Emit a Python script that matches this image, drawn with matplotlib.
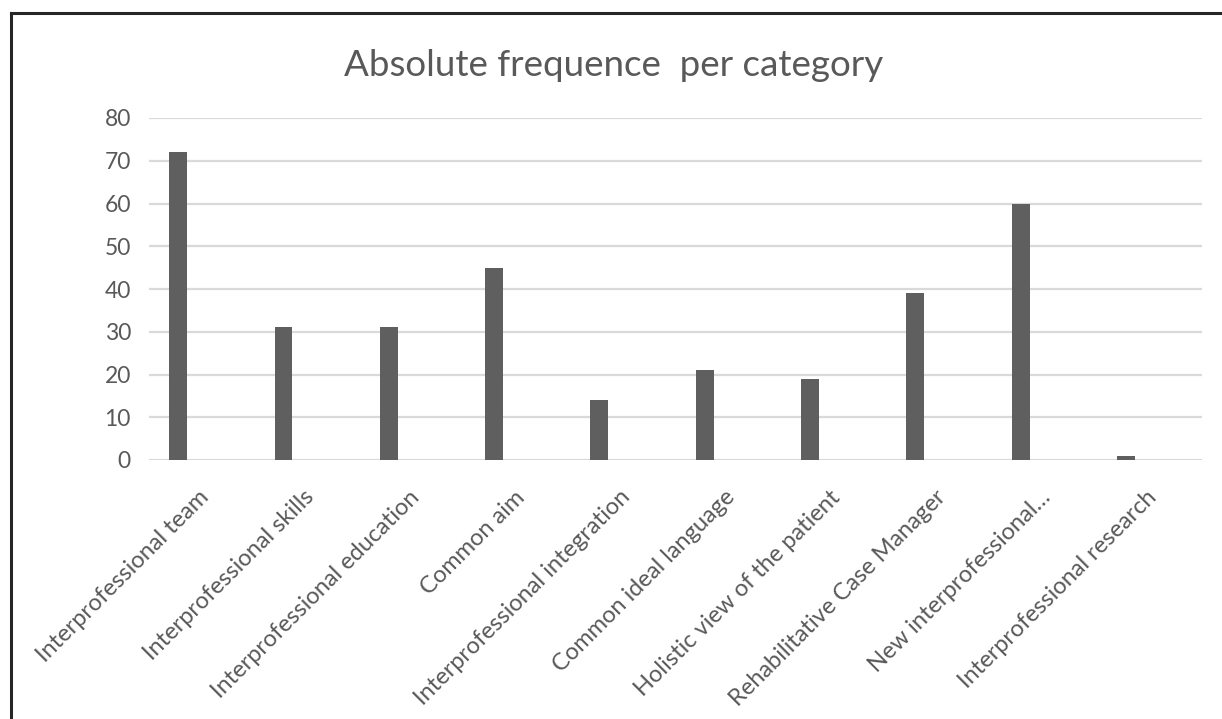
import numpy as np
import matplotlib.pyplot as plt
import matplotlib.transforms as mtransforms
from matplotlib.lines import Line2D

categories = ["Interprofessional team", "Interprofessional skills",
              "Interprofessional education", "Common aim",
              "Interprofessional integration", "Common ideal language",
              "Holistic view of the patient", "Rehabilitative Case Manager",
              "New interprofessional\u2026", "Interprofessional research"]
counts = [72, 31, 31, 45, 14, 21, 19, 39, 60, 1]
yticks = [0, 10, 20, 30, 40, 50, 60, 70, 80]

plt.rcParams['font.family'] = ['Lato', 'DejaVu Sans']
grey = "#595959"

fig = plt.figure(figsize=(12.22, 7.19), dpi=100)
ax = fig.add_axes([149/1222, 1 - 460/719, (1202-149)/1222, (460-118)/719])

x = np.arange(len(categories))
ax.bar(x, counts, width=0.17, color="#5f5f5f", zorder=3)
# category slots sit a bit left of the gridline span
ax.set_xlim(-0.277, len(categories) - 0.277)
ax.set_ylim(0, 80)
ax.set_yticks(yticks)
ax.yaxis.grid(True, color="#d9d9d9", linewidth=1.6, zorder=0)
ax.set_axisbelow(True)
for s in ax.spines.values():
    s.set_visible(False)
ax.tick_params(axis='both', length=0, colors=grey, labelsize=16.5)
ax.tick_params(axis='y', pad=13)

ax.set_xticks(x)
ax.set_xticklabels(categories, rotation=45, ha='right', va='center',
                   rotation_mode='anchor', fontsize=17)
shift = mtransforms.ScaledTranslation(27/100, -29/100, fig.dpi_scale_trans)
for lbl in ax.get_xticklabels():
    lbl.set_transform(lbl.get_transform() + shift)

fig.text(614/1222, 1 - 65/719, "Absolute frequence  per category",
         ha='center', va='center', fontsize=26.5, color=grey)

# chart border (left and top edges only in view)
fig.add_artist(Line2D([11/1222, 11/1222], [0, 1 - 13/719],
                      transform=fig.transFigure, color="#262626", lw=2.2))
fig.add_artist(Line2D([11/1222, 1], [1 - 13/719, 1 - 13/719],
                      transform=fig.transFigure, color="#262626", lw=2.2))

fig.savefig("out.png", dpi=100)
